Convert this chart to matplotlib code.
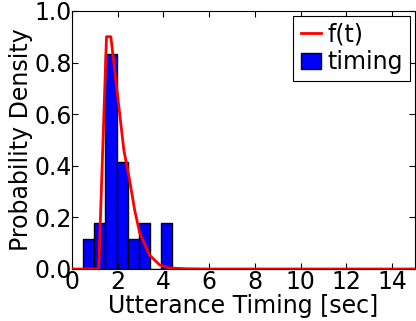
import numpy as np
import matplotlib
matplotlib.use('Agg')
import matplotlib.pyplot as plt

# Histogram of utterance timings (density), bins
binEdges = [0.50, 0.983, 1.465, 1.948, 2.43, 2.913, 3.395, 3.878, 4.36]
density = [0.118, 0.178, 0.834, 0.416, 0.118, 0.178, 0.0, 0.178]

# Fitted curve f(t)
t = [0.0, 1.17, 1.51, 1.70, 2.27, 2.52, 2.74, 2.96, 3.39, 3.83, 4.26, 5.0, 6.0, 15.0]
ft = [0.0, 0.0, 0.9, 0.9, 0.46, 0.345, 0.229, 0.14, 0.054, 0.016, 0.004, 0.001, 0.0, 0.0]

xTicks = [0, 2, 4, 6, 8, 10, 12, 14]
yTicks = [0.0, 0.2, 0.4, 0.6, 0.8, 1.0]

plt.rcParams['xtick.direction'] = 'in'
plt.rcParams['ytick.direction'] = 'in'
plt.rcParams['xtick.top'] = True
plt.rcParams['ytick.right'] = True

fig = plt.figure(figsize=(4.16, 3.21), dpi=100)
ax = fig.add_axes([0.173, 0.162, 0.8246, 0.804])

widths = np.diff(binEdges)
ax.plot(t, ft, color='red', lw=2, label='f(t)', zorder=3)
ax.bar(binEdges[:-1], density, width=widths, align='edge', color='blue',
       edgecolor='black', lw=1, label='timing')

ax.set_xlim(0, 15)
ax.set_ylim(0, 1.0)
ax.set_xticks(xTicks)
ax.set_yticks(yTicks)
ax.set_yticklabels(['%.1f' % v for v in yTicks])
ax.tick_params(labelsize=17, length=4, width=0.8)
ax.tick_params(axis='x', pad=1)
ax.tick_params(axis='y', pad=0)
ax.set_xlabel('Utterance Timing [sec]', fontsize=17, labelpad=0)
ax.set_ylabel('Probability Density', fontsize=17, labelpad=1)

leg = ax.legend(loc='upper right', fontsize=17, fancybox=False, framealpha=1,
                edgecolor='black', handlelength=0.85, handletextpad=0.3,
                borderaxespad=0.2, borderpad=0.3, labelspacing=0.15)
leg.get_frame().set_linewidth(0.8)

fig.savefig('out.png', dpi=100)
